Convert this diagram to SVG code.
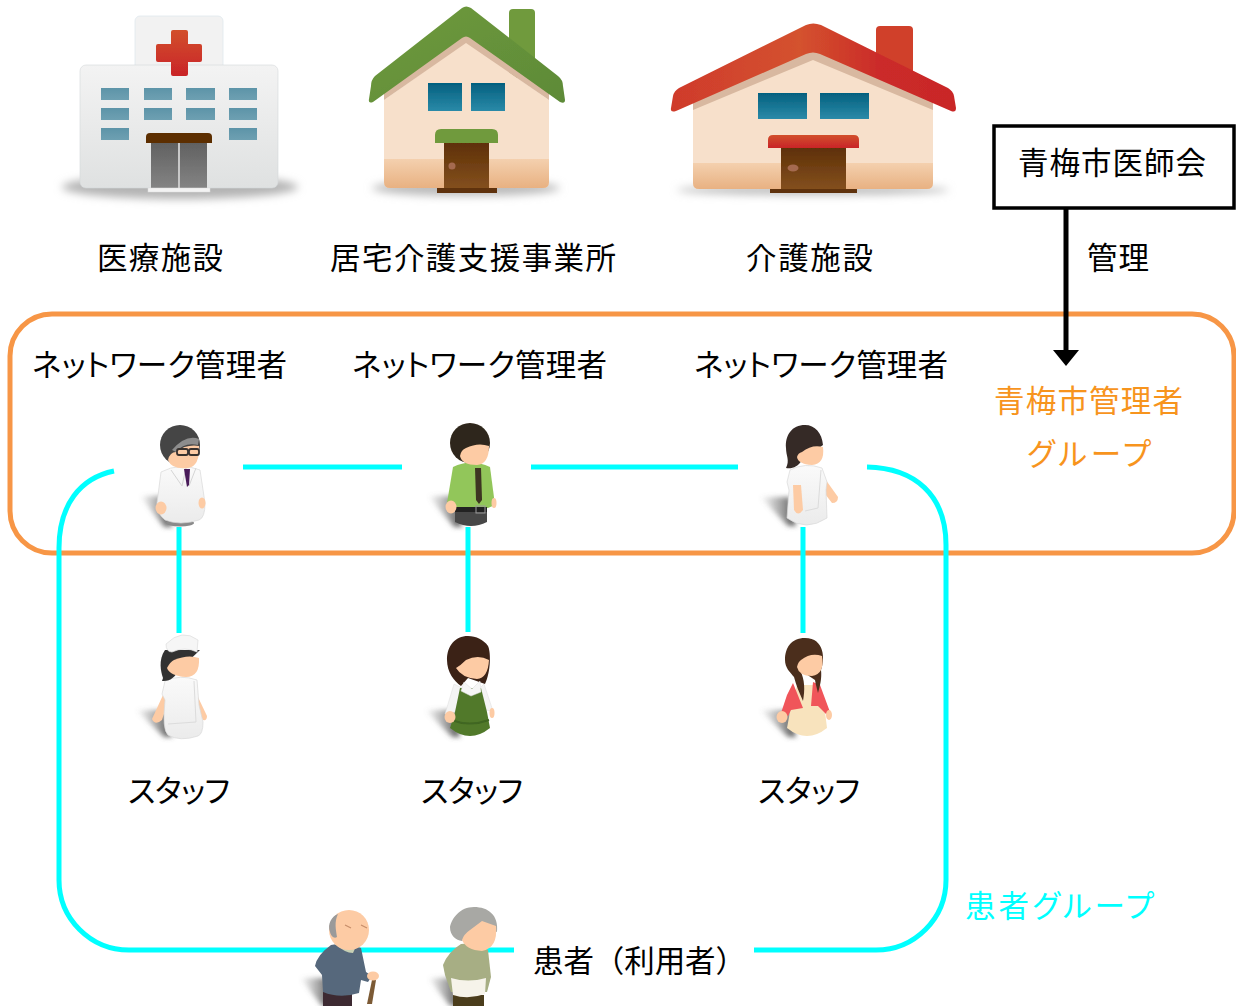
<svg xmlns="http://www.w3.org/2000/svg" width="1236" height="1006" viewBox="0 0 1236 1006">
<style>
text{font-family:"Noto Sans CJK JP","Noto Sans CJK SC",sans-serif;font-size:30.5px;fill:#000;font-feature-settings:"palt"}
.full{font-feature-settings:normal}
.orangeT{fill:#f7941d}.cyanT{fill:#00ffff}
.cy{fill:none;stroke:#00ffff;stroke-width:5}
.skin{fill:#fdcba4}
.win{fill:url(#winH)}.winD{fill:url(#winB)}
.door{fill:url(#door)}.wood{fill:#5e3208}
.body{fill:#f7e0cb}.tan{fill:#d8b8a0}.band{fill:url(#band)}
.wh{fill:url(#white);stroke:#d8d8d8;stroke-width:.7}
.sh{fill:url(#pshadow);filter:url(#b3)}
.ic{filter:url(#b05)}
</style>
<defs>
<filter id="b05" x="-5%" y="-5%" width="110%" height="110%"><feGaussianBlur stdDeviation="0.5"/></filter>
<filter id="b3" x="-40%" y="-40%" width="180%" height="180%"><feGaussianBlur stdDeviation="2.5"/></filter>
<filter id="b6" x="-20%" y="-100%" width="140%" height="300%"><feGaussianBlur stdDeviation="4"/></filter>
<linearGradient id="hosp" x1="0" y1="0" x2="0" y2="1"><stop offset="0" stop-color="#f3f3f3"/><stop offset="1" stop-color="#dfe1e1"/></linearGradient>
<linearGradient id="winH" x1="0" y1="0" x2="0" y2="1"><stop offset="0" stop-color="#5d94a8"/><stop offset="1" stop-color="#6ea0b2"/></linearGradient>
<linearGradient id="winB" x1="0" y1="0" x2="0" y2="1"><stop offset="0" stop-color="#04607f"/><stop offset="1" stop-color="#2a8aa8"/></linearGradient>
<linearGradient id="glass" x1="0" y1="0" x2="0" y2="1"><stop offset="0" stop-color="#5f5f5f"/><stop offset="1" stop-color="#848484"/></linearGradient>
<linearGradient id="door" x1="0" y1="0" x2="0" y2="1"><stop offset="0" stop-color="#5e3006"/><stop offset="1" stop-color="#84501f"/></linearGradient>
<linearGradient id="band" x1="0" y1="0" x2="0" y2="1"><stop offset="0" stop-color="#f4d0ae"/><stop offset="1" stop-color="#e8b182"/></linearGradient>
<linearGradient id="cross" x1="0" y1="0" x2="0" y2="1"><stop offset="0" stop-color="#d24f2b"/><stop offset="1" stop-color="#c92428"/></linearGradient>
<linearGradient id="green" x1="0" y1="0" x2="1" y2="1"><stop offset="0" stop-color="#6f9a3c"/><stop offset="1" stop-color="#5d8a38"/></linearGradient>
<linearGradient id="red" gradientUnits="userSpaceOnUse" x1="672" y1="60" x2="956" y2="60"><stop offset="0" stop-color="#cf3a2c"/><stop offset=".45" stop-color="#d4522e"/><stop offset=".72" stop-color="#cb2c29"/><stop offset="1" stop-color="#c92628"/></linearGradient>
<linearGradient id="white" x1="0" y1="0" x2="0" y2="1"><stop offset="0" stop-color="#fafafa"/><stop offset="1" stop-color="#ebebeb"/></linearGradient>
<linearGradient id="pshadow" x1="0" y1="0" x2="1" y2="0"><stop offset="0" stop-color="#777" stop-opacity="0"/><stop offset="1" stop-color="#555"/></linearGradient>
<marker id="arr" markerUnits="userSpaceOnUse" markerWidth="26" markerHeight="16" refX="13" refY="0" orient="0" viewBox="0 0 26 16"><path d="M0 0H26L13 16Z" fill="#000"/></marker>
</defs>
<rect width="1236" height="1006" fill="#fff"/>

<g id="orange-group"><rect x="10" y="314" width="1224" height="239" rx="42" fill="none" stroke="#f79646" stroke-width="5"/></g>

<g id="connectors">
<path class="cy" d="M114 471C80 478 59 505 59 548V880A70 70 0 0 0 129 950H514"/>
<path class="cy" d="M754 950H876A70 70 0 0 0 946 880V545C946 495 915 468 867 467"/>
<path class="cy" d="M243 467H402M531 467H738M179 527V633M468 527V632M803 527V633"/>
<path d="M1066 208V350" fill="none" stroke="#000" stroke-width="5" marker-end="url(#arr)"/>
</g>

<g id="hospital">
<ellipse cx="180" cy="187" rx="118" ry="12" fill="#b4b4b4" filter="url(#b6)"/>
<g class="ic">
<rect x="135" y="16" width="88" height="60" rx="5" fill="#f2f2f2" stroke="#dfe8ee" stroke-width=".8"/>
<rect x="80" y="65" width="198" height="123" rx="6" fill="url(#hosp)" stroke="#d5d9da" stroke-width=".6"/>
<path d="M171 32q0-2 2-2h13q2 0 2 2v12h12q2 0 2 2v14q0 2-2 2h-12v12q0 2-2 2h-13q-2 0-2-2v-12h-13q-2 0-2-2v-14q0-2 2-2h13z" fill="url(#cross)"/>
<rect class="win" x="101" y="88" width="28" height="12"/><rect class="win" x="144" y="88" width="28" height="12"/><rect class="win" x="186" y="88" width="29" height="12"/><rect class="win" x="229" y="88" width="28" height="12"/>
<rect class="win" x="101" y="108" width="28" height="12"/><rect class="win" x="144" y="108" width="28" height="12"/><rect class="win" x="186" y="108" width="29" height="12"/><rect class="win" x="229" y="108" width="28" height="12"/>
<rect class="win" x="101" y="128" width="28" height="12"/><rect class="win" x="229" y="128" width="28" height="12"/>
<rect x="151" y="141" width="56" height="47" fill="url(#glass)"/><rect x="178" y="141" width="2" height="47" fill="#c8c8c8"/>
<path d="M146 143v-6q0-4 4-4h58q4 0 4 4v6z" fill="#5b2e04"/>
<rect x="148" y="188" width="62" height="4" fill="#f3f3f3" stroke="#ddd" stroke-width=".5"/>
</g></g>

<g id="green-house">
<ellipse cx="466" cy="188" rx="94" ry="8" fill="#bbb" filter="url(#b6)"/>
<g class="ic">
<path d="M513 9H531Q535 9 535 13V78H509V13Q509 9 513 9Z" fill="#6f9a3c"/>
<path class="body" d="M384 100L466 42L549 100V182q0 6-6 6H390q-6 0-6-6Z"/>
<path class="tan" d="M384 90L466 32L549 90V100L466 43L384 100Z"/>
<path class="band" d="M384 159H549V182q0 6-6 6H390q-6 0-6-6Z"/>
<path d="M462 8Q466 5 471 8L558 76Q563 80 563 86L565 100Q565 104 560 102L470 38Q466 35 462 38L373 102Q368 104 369 99L371 86Q371 80 375 76Z" fill="url(#green)"/>
<rect class="winD" x="428" y="83" width="34" height="28"/><rect class="winD" x="471" y="83" width="34" height="28"/>
<rect class="door" x="444" y="142" width="45" height="47"/>
<circle cx="452" cy="166" r="3.5" fill="#a56b50"/>
<path d="M435 143v-8q0-6 6-6h51q6 0 6 6v8z" fill="#6f9a3c"/>
<rect class="wood" x="437" y="188" width="60" height="5"/>
</g></g>

<g id="red-house">
<ellipse cx="813" cy="190" rx="136" ry="5" fill="#bbb" filter="url(#b6)"/>
<g class="ic">
<path d="M880 26H909Q913 26 913 30V81H876V30Q876 26 880 26Z" fill="#d0402c"/>
<path class="body" d="M693 108L813 56L933 108V183q0 6-6 6H699q-6 0-6-6Z"/>
<path class="tan" d="M693 100L813 48L933 100V110L813 60L693 110Z"/>
<path class="band" d="M693 163H933V183q0 6-6 6H699q-6 0-6-6Z"/>
<path d="M806 25Q813 22 821 25L948 88Q953 91 954 96L956 108Q956 113 951 111L820 54Q813 51 806 54L676 111Q670 113 671 108L673 96Q674 91 679 88Z" fill="url(#red)"/>
<rect class="winD" x="758" y="93" width="49" height="26"/><rect class="winD" x="820" y="93" width="49" height="26"/>
<rect class="door" x="781" y="147" width="65" height="43"/>
<ellipse cx="793" cy="168" rx="5.5" ry="3.5" fill="#a56b50"/>
<path d="M768 148v-8q0-5 5-5h81q5 0 5 5v8z" fill="url(#cross)"/>
<rect class="wood" x="770" y="189" width="87" height="4"/>
</g></g>

<g id="box-ishikai"><rect x="994" y="126" width="240" height="82" fill="#fff" stroke="#000" stroke-width="3.5"/><text x="1018" y="174" textLength="188">青梅市医師会</text></g>

<g id="label-iryo"><text x="97" y="269" textLength="126">医療施設</text></g>
<g id="label-kyotaku"><text x="330" y="269" textLength="286">居宅介護支援事業所</text></g>
<g id="label-kaigo"><text x="746" y="269" textLength="127">介護施設</text></g>
<g id="label-kanri"><text x="1087" y="269" textLength="62">管理</text></g>
<g id="label-net1"><text x="32" y="376" textLength="255">ネットワーク管理者</text></g>
<g id="label-net2"><text x="352" y="376" textLength="255">ネットワーク管理者</text></g>
<g id="label-net3"><text x="694" y="376" textLength="254">ネットワーク管理者</text></g>
<g id="label-ome"><text class="orangeT" x="994" y="412" textLength="189">青梅市管理者</text><text class="orangeT" x="1027" y="465" textLength="124">グループ</text></g>
<g id="label-staff1"><text x="128" y="802" textLength="102">スタッフ</text></g>
<g id="label-staff2"><text x="421" y="802" textLength="102">スタッフ</text></g>
<g id="label-staff3"><text x="758" y="802" textLength="102">スタッフ</text></g>
<g id="label-patients"><text class="cyanT" x="965" y="917" textLength="189">患者グループ</text></g>
<g id="label-patient"><text class="full" x="533" y="972" textLength="213">患者（利用者）</text></g>

<g id="doctor">
<path class="sh" d="M140 496H166L172 527H164Z"/>
<g class="ic">
<ellipse cx="180" cy="523" rx="14" ry="3.5" fill="#8a8a8a"/>
<path class="wh" d="M161 472Q180 462 200 470L205 503Q205 518 199 520Q180 526 165 520Q157 514 157 503Z"/>
<path d="M171 470L182 486L186 468M196 468L189 486" fill="none" stroke="#d5d5d5"/>
<path d="M184 469H190L189 485L187 487Z" fill="#4a1a5a"/>
<ellipse class="skin" cx="161" cy="508" rx="5.5" ry="6.5"/><ellipse class="skin" cx="202" cy="503" rx="3.5" ry="5.5"/>
<circle cx="180" cy="445" r="20" fill="#454545"/>
<path class="skin" d="M176 452Q186 444 199 446Q200 466 188 468Q172 470 168 460Q170 452 176 452Z"/>
<path d="M172 450Q186 434 199 439L198 445Q184 442 176 452Z" fill="#8d8d8d"/>
<rect x="177" y="449" width="11" height="6" rx="2" fill="none" stroke="#38302f" stroke-width="1.8"/><rect x="189" y="449" width="10" height="6" rx="2" fill="none" stroke="#38302f" stroke-width="1.8"/>
</g></g>

<g id="manager-man">
<path class="sh" d="M428 496H456L462 527H454Z"/>
<g class="ic">
<path d="M455 505H487V522Q471 530 455 522Z" fill="#474747"/>
<path d="M453 467Q471 458 490 467L495 505L488 508H455L447 503Z" fill="#92c65a"/>
<rect x="455" y="507" width="32" height="5" fill="#222"/><rect x="476" y="506" width="9" height="7" fill="none" stroke="#999"/>
<path d="M475 468H481L482 500L479 504L476 500Z" fill="#3c3520"/>
<ellipse class="skin" cx="451" cy="507" rx="5.5" ry="6.5"/><ellipse class="skin" cx="494" cy="503" rx="2.5" ry="5"/>
<circle cx="470" cy="443" r="20" fill="#2f261a"/>
<path class="skin" d="M466 448Q478 442 489 446Q489 464 477 465Q462 465 460 456Q461 450 466 448Z"/>
</g></g>

<g id="manager-nurse">
<path class="sh" d="M760 497H790L796 526H788Z"/>
<g class="ic">
<path class="skin" d="M823 476L838 497Q838 503 832 503L822 490Z"/>
<path class="wh" d="M790 470Q805 462 822 468L827 482L826 490L827 518Q806 532 787 518L789 490L787 482Z"/>
<path d="M821 470L818 508L805 511" fill="none" stroke="#dcdcdc"/>
<path class="skin" d="M793 485H801L803 510Q798 517 794 510Z"/>
<path d="M805 425C792 425 785 435 786 448C786 456 790 460 786 468C792 469 798 467 802 460L823 445C822 433 815 425 805 425Z" fill="#352a27"/>
<path class="skin" d="M802 452Q812 444 823 447Q825 464 812 465Q798 464 797 457Q798 453 802 452Z"/>
</g></g>

<g id="staff-nurse">
<path class="sh" d="M136 710H165L172 737H164Z"/>
<g class="ic">
<path class="skin" d="M163 695H170L162 720Q155 726 152 719Z"/>
<path class="skin" d="M197 695L207 716Q207 721 203 720L197 710Z"/>
<path class="wh" d="M165 681Q180 674 197 680L199 705L203 722Q203 734 198 736Q180 742 168 735Q162 730 165 700L162 694Z"/>
<path d="M194 681L196 722L168 724" fill="none" stroke="#dcdcdc"/>
<path d="M165 650C158 660 161 672 163 678L162 681C170 682 176 676 178 671L200 650Z" fill="#333"/>
<path class="skin" d="M174 660Q188 654 199 658Q200 677 186 677Q170 676 167 668Q170 662 174 660Z"/>
<path d="M166 644Q182 628 198 640L197 652Q185 646 172 652Q166 652 166 644Z" fill="#f6f6f6" stroke="#ddd" stroke-width=".7"/>
</g></g>

<g id="staff-green">
<path class="sh" d="M425 710H454L460 737H452Z"/>
<g class="ic">
<path d="M454 684L462 688L455 712L445 714Z" fill="#f4f4f4" stroke="#ddd" stroke-width=".5"/>
<path d="M484 684L478 690L485 710L493 711Z" fill="#f4f4f4" stroke="#ddd" stroke-width=".5"/>
<path d="M460 688H481L487 712L490 728Q470 744 450 728L455 712Z" fill="#51792b"/>
<path d="M451 720Q470 727 489 720" fill="none" stroke="#3f6620" stroke-width="2"/>
<ellipse class="skin" cx="450" cy="717" rx="5.5" ry="6"/><ellipse class="skin" cx="492" cy="713" rx="2.5" ry="5"/>
<path d="M468 636C455 636 447 646 447 660C447 672 454 681 461 686L468 678L485 684C491 672 491 652 488 646C484 640 476 636 468 636Z" fill="#3a2117"/>
<path class="skin" d="M466 660Q478 654 489 660Q488 678 477 679Q462 678 456 668Q461 665 466 660Z"/>
<path d="M464 682L472 689L480 681L481 692L471 696L461 691Z" fill="#f6f6f6" stroke="#ddd" stroke-width=".5"/>
</g></g>

<g id="staff-cream">
<path class="sh" d="M760 710H790L796 737H788Z"/>
<g class="ic">
<path d="M797 685H815L825 712L827 728Q807 744 787 728L790 712Z" fill="#f8e3bd"/>
<path d="M793 683L803 708L791 710L788 716L781 713L787 695Z" fill="#f0555a"/>
<path d="M813 682L820 685L830 712L826 714L818 706H811Z" fill="#f0555a"/>
<ellipse class="skin" cx="782" cy="717" rx="5.5" ry="6"/><ellipse class="skin" cx="829" cy="715" rx="3" ry="5"/>
<path d="M805 638C791 638 785 648 785 660C785 668 790 672 794 677C796 685 799 692 803 701C805 690 805 680 800 670L815 680C816 686 818 692 818 693C820 686 822 678 821 670C825 660 825 638 805 638Z" fill="#4b2f1d"/>
<path class="skin" d="M801 660Q811 652 822 656Q825 674 812 676Q799 676 797 667Q798 662 801 660Z"/>
</g></g>

<g id="patient-man">
<path class="sh" d="M300 978H326L332 1006H322Z"/>
<g class="ic">
<path d="M323 990H352V1006H323Z" fill="#3e2b30"/>
<path d="M331 945Q345 942 361 948L366 972L372 976L368 982L361 980L359 993Q340 999 323 992L322 975L315 966Q317 955 331 945Z" fill="#56687c"/>
<path d="M335 942H358L353 953Q345 953 335 944Z" fill="#c8d0b4"/>
<path d="M372 980H376L372 1004H367Z" fill="#7b5a34"/>
<ellipse class="skin" cx="373" cy="976" rx="6" ry="4.5"/>
<circle class="skin" cx="349" cy="930" r="20"/>
<path d="M330 932C327 924 332 916 338 914C334 922 336 930 337 937C334 939 331 936 330 932Z" fill="#9a9a9a"/>
<path d="M345 925L351 928M361 925L367 928" stroke="#c78e6a" stroke-width="1.2" fill="none"/>
</g></g>

<g id="patient-woman">
<path class="sh" d="M428 978H454L460 1006H450Z"/>
<g class="ic">
<path d="M453 995H484V1006H453Z" fill="#4c3c1c"/>
<path d="M461 944Q476 942 488 950L491 977L487 992H451L445 975L443 965Q448 952 461 944Z" fill="#a7ae84"/>
<path d="M451 978Q468 983 486 978L485 994Q468 1000 453 995Z" fill="#f6f3ea"/>
<path d="M474 907C460 907 452 918 450 927C450 936 456 940 462 941L480 925L497 932C499 915 488 907 474 907Z" fill="#a8a8a4"/>
<path class="skin" d="M470 930L482 921L496 926Q498 948 482 951Q466 950 462 940Q464 934 470 930Z"/>
</g></g>
</svg>
